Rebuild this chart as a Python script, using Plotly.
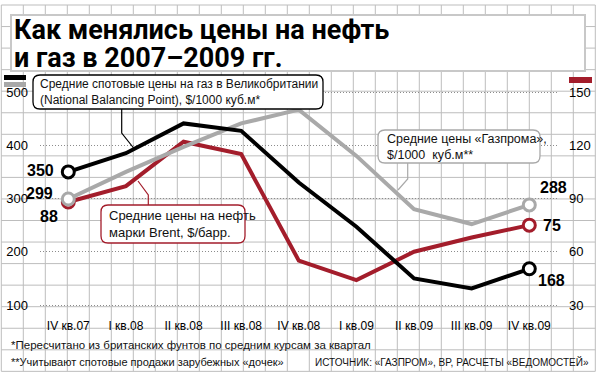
import plotly.graph_objects as go

# ---------------- data ----------------
quarters = ["IV кв.07", "I кв.08", "II кв.08", "III кв.08", "IV кв.08",
            "I кв.09", "II кв.09", "III кв.09", "IV кв.09"]
nbp_gas = [350, 385, 441, 427, 330, 247, 150, 131, 168]        # $/1000 m3, left axis
gazprom_gas = [299, 350, 397, 441, 467, 380, 280, 252, 288]    # $/1000 m3, left axis
brent_oil = [88, 97, 122, 115, 55, 44, 60, 68, 75]              # $/bbl, right axis
left_ticks = [100, 200, 300, 400, 500]
right_ticks = [30, 60, 90, 120, 150]

title_lines = ["Как менялись цены на нефть", "и газ в 2007–2009 гг."]
label_nbp = "Средние спотовые цены на газ в Великобритании<br>(National Balancing Point), $/1000 куб.м*"
label_gazprom = "Средние цены «Газпрома»,<br>$/1000  куб.м**"
label_brent = "Средние цены на нефть<br>марки Brent, $/барр."
note1 = "*Пересчитано из британских фунтов по средним курсам за квартал"
note2 = "**Учитывают спотовые продажи зарубежных «дочек»"
source = "ИСТОЧНИК: «ГАЗПРОМ», BP, РАСЧЕТЫ «ВЕДОМОСТЕЙ»"

# ---------------- styling / geometry ----------------
W, H = 601, 377
RED = "#a31d2b"
GREY = "#a9a9a9"
BLACK = "#000000"
GRIDPAPER = "#bdbdbd"
FONT = "Liberation Sans, Arial, sans-serif"


def px(x):
    return x / W


def py(y):
    return 1 - y / H


# axis calibration (pixels)
X0_PIX, DX_PIX = 68.3, 57.625
PLOT_L, PLOT_R = 40, 558
Y100_PIX, PIX_PER_UNIT = 305.0, 0.5325
left_lo = 100 - (H - Y100_PIX) / PIX_PER_UNIT
left_hi = 100 + Y100_PIX / PIX_PER_UNIT
RATIO = 0.3
xr = [(PLOT_L - X0_PIX) / DX_PIX, (PLOT_R - X0_PIX) / DX_PIX]

idx = list(range(len(quarters)))

fig = go.Figure()

# Brent (primary axis, right side)
fig.add_trace(go.Scatter(x=idx, y=brent_oil, mode="lines", yaxis="y",
                         line=dict(color=RED, width=4), hoverinfo="skip"))
fig.add_trace(go.Scatter(x=[idx[0], idx[-1]], y=[brent_oil[0], brent_oil[-1]], mode="markers",
                         yaxis="y", hoverinfo="skip",
                         marker=dict(size=12, color="white", line=dict(color=RED, width=3))))
# Gazprom (left axis)
fig.add_trace(go.Scatter(x=idx, y=gazprom_gas, mode="lines", yaxis="y2",
                         line=dict(color=GREY, width=4), hoverinfo="skip"))
fig.add_trace(go.Scatter(x=[idx[0], idx[-1]], y=[gazprom_gas[0], gazprom_gas[-1]], mode="markers",
                         yaxis="y2", hoverinfo="skip",
                         marker=dict(size=12, color="white", line=dict(color=GREY, width=3))))
# NBP (left axis)
fig.add_trace(go.Scatter(x=idx, y=nbp_gas, mode="lines", yaxis="y2",
                         line=dict(color=BLACK, width=4), hoverinfo="skip"))
fig.add_trace(go.Scatter(x=[idx[0], idx[-1]], y=[nbp_gas[0], nbp_gas[-1]], mode="markers",
                         yaxis="y2", hoverinfo="skip",
                         marker=dict(size=12, color="white", line=dict(color=BLACK, width=3))))

shapes = []
# grid paper
GX0, GY0, GDX, GDY = 1.3, 5.0, 22.0, 21.55
for k in range(28):
    x = GX0 + GDX * k
    shapes.append(dict(type="line", xref="paper", yref="paper", layer="below",
                       x0=px(x), x1=px(x), y0=py(GY0), y1=py(GY0 + GDY * 17),
                       line=dict(color=GRIDPAPER, width=1)))
for k in range(18):
    y = GY0 + GDY * k
    shapes.append(dict(type="line", xref="paper", yref="paper", layer="below",
                       x0=px(GX0), x1=px(GX0 + GDX * 27), y0=py(y), y1=py(y),
                       line=dict(color=GRIDPAPER, width=1)))
# title box
shapes.append(dict(type="rect", xref="paper", yref="paper", layer="below",
                   x0=px(11), x1=px(585), y0=py(15), y1=py(71),
                   fillcolor="white", line=dict(color="#c8c8c8", width=2)))
# legend swatches
shapes.append(dict(type="rect", xref="paper", yref="paper", layer="above",
                   x0=px(4), x1=px(26), y0=py(75), y1=py(80), fillcolor=BLACK, line=dict(width=0)))
shapes.append(dict(type="rect", xref="paper", yref="paper", layer="above",
                   x0=px(4), x1=px(26), y0=py(82), y1=py(87), fillcolor=GREY, line=dict(width=0)))
shapes.append(dict(type="rect", xref="paper", yref="paper", layer="above",
                   x0=px(569), x1=px(592), y0=py(77), y1=py(83), fillcolor=RED, line=dict(width=0)))


def rrect(x0, y0, x1, y1, r):
    p = [
        f"M {px(x0 + r)} {py(y0)}",
        f"L {px(x1 - r)} {py(y0)}",
        f"Q {px(x1)} {py(y0)} {px(x1)} {py(y0 + r)}",
        f"L {px(x1)} {py(y1 - r)}",
        f"Q {px(x1)} {py(y1)} {px(x1 - r)} {py(y1)}",
        f"L {px(x0 + r)} {py(y1)}",
        f"Q {px(x0)} {py(y1)} {px(x0)} {py(y1 - r)}",
        f"L {px(x0)} {py(y0 + r)}",
        f"Q {px(x0)} {py(y0)} {px(x0 + r)} {py(y0)}",
        "Z",
    ]
    return " ".join(p)


def polyline(pts):
    return "M " + " L ".join(f"{px(a)} {py(b)}" for a, b in pts)


# leader lines
shapes.append(dict(type="path", xref="paper", yref="paper", layer="above",
                   path=polyline([(121.7, 109), (121.7, 133), (134, 148.5)]),
                   line=dict(color=BLACK, width=1.2)))
shapes.append(dict(type="path", xref="paper", yref="paper", layer="above",
                   path=polyline([(407.7, 163), (407.7, 179), (398, 190)]),
                   line=dict(color=GREY, width=1.2)))
shapes.append(dict(type="path", xref="paper", yref="paper", layer="above",
                   path=polyline([(148.3, 205), (148.3, 195), (138, 181)]),
                   line=dict(color=RED, width=1.2)))
# rounded label boxes
shapes.append(dict(type="path", xref="paper", yref="paper", layer="above",
                   path=rrect(33, 75, 323, 109, 7), fillcolor="white",
                   line=dict(color=BLACK, width=1.3)))
shapes.append(dict(type="path", xref="paper", yref="paper", layer="above",
                   path=rrect(378, 130, 540, 163, 7), fillcolor="white",
                   line=dict(color=GREY, width=1.3)))
shapes.append(dict(type="path", xref="paper", yref="paper", layer="above",
                   path=rrect(101, 205, 245, 243, 7), fillcolor="white",
                   line=dict(color=RED, width=1.3)))

ann = []


def paper_text(text, x, y, size, family=FONT, xanchor="left", yanchor="middle",
               align="left", color="#111111", height=None):
    a = dict(text=text, x=px(x), y=py(y), xref="paper", yref="paper",
             xanchor=xanchor, yanchor=yanchor, align=align, showarrow=False,
             font=dict(size=size, family=family, color=color))
    if height is not None:
        a["height"] = height
        a["valign"] = "middle"
    ann.append(a)


# title
paper_text(f"<b>{title_lines[0]}</b>", 12, 30, 27, family="Roboto, Liberation Sans, sans-serif",
           color="black", height=26)
paper_text(f"<b>{title_lines[1]}</b>", 12, 57.5, 27, family="Roboto, Liberation Sans, sans-serif",
           color="black", height=26)
# box labels
paper_text(label_nbp, 38, 92, 12)
paper_text(label_gazprom, 385, 146.5, 12.5)
paper_text(label_brent, 107, 224, 13)
# footnotes
paper_text(note1, 9, 345, 11.5)
paper_text(note2, 9, 362, 11)
paper_text(source, 591, 362, 10, xanchor="right", align="right")


def value_label(text, xi, yv, yref, xanchor, xshift, yshift):
    ann.append(dict(text=f"<b>{text}</b>", x=xi, y=yv, xref="x", yref=yref,
                    xanchor=xanchor, yanchor="middle", xshift=xshift, yshift=yshift,
                    showarrow=False, font=dict(size=16, family=FONT, color="black")))


value_label(nbp_gas[0], idx[0], nbp_gas[0], "y2", "right", -12, 1)
value_label(gazprom_gas[0], idx[0], gazprom_gas[0], "y2", "right", -13, 6)
value_label(brent_oil[0], idx[0], brent_oil[0], "y", "right", -8, -14)
value_label(gazprom_gas[-1], idx[-1], gazprom_gas[-1], "y2", "left", 9, 17)
value_label(brent_oil[-1], idx[-1], brent_oil[-1], "y", "left", 12, 0)
value_label(nbp_gas[-1], idx[-1], nbp_gas[-1], "y2", "left", 7, -12)

fig.update_layout(
    template="none",
    width=W, height=H,
    margin=dict(l=0, r=0, t=0, b=0, pad=0),
    paper_bgcolor="white", plot_bgcolor="rgba(0,0,0,0)",
    showlegend=False,
    xaxis=dict(domain=[px(PLOT_L), px(PLOT_R)], range=xr, tickmode="array",
               tickvals=idx, ticktext=quarters, anchor="free", position=py(317),
               showgrid=False, zeroline=False, showline=False, ticks="",
               automargin=False, fixedrange=True,
               tickfont=dict(size=12, family=FONT, color="black")),
    yaxis=dict(domain=[0, 1], side="right", anchor="x",
               range=[left_lo * RATIO, left_hi * RATIO],
               tickmode="array", tickvals=right_ticks,
               showgrid=True, gridcolor="#8c8c8c", gridwidth=1, griddash="1px,2px",
               zeroline=False, showline=False, ticks="", ticklabelstandoff=10,
               automargin=False, fixedrange=True,
               tickfont=dict(size=13, family=FONT, color="black")),
    yaxis2=dict(domain=[0, 1], side="left", overlaying="y", anchor="x",
                range=[left_lo, left_hi], tickmode="array", tickvals=left_ticks,
                showgrid=False, zeroline=False, showline=False, ticks="",
                ticklabelstandoff=11, automargin=False, fixedrange=True,
                tickfont=dict(size=13, family=FONT, color="black")),
    shapes=shapes,
    annotations=ann,
)

fig.write_html("out.html", config={"displayModeBar": False},
               post_script="document.body.style.margin='0';document.body.style.padding='0';"
                           "document.body.style.overflow='hidden';")
